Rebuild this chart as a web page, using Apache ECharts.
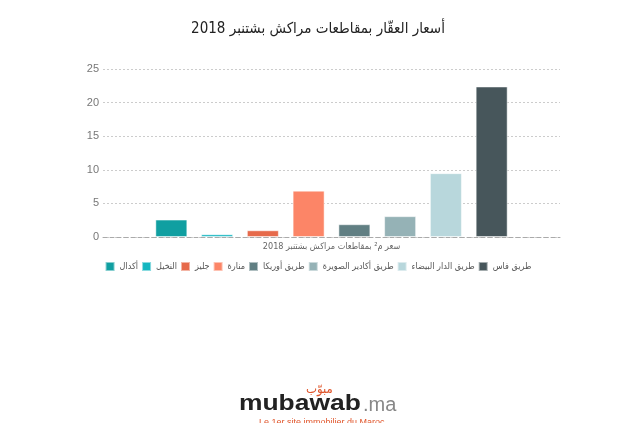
<!DOCTYPE html>
<html>
<head>
<meta charset="utf-8">
<script src="https://cdn.jsdelivr.net/npm/echarts@6/dist/echarts.min.js"></script>
<style>html,body{margin:0;padding:0;background:#fff;}#c{width:636px;height:423px;}</style>
</head>
<body>
<div id="c"></div>
<script>
var titleText = 'أسعار العقّار بمقاطعات مراكش بشتنبر 2018';
var categories = ['سعر م² بمقاطعات مراكش بشتنبر 2018'];
var seriesNames = ['أكدال', 'النخيل', 'جليز', 'منارة', 'طريق أوريكا', 'طريق أكادير الصويرة', 'طريق الدار البيضاء', 'طريق فاس'];
var seriesValues = [2.6, 0.4, 1.0, 6.9, 1.9, 3.1, 9.5, 22.4];
var seriesColors = ['#109fa1', '#14b6c0', '#e66a4b', '#fc8567', '#617f83', '#95b2b6', '#b8d7dc', '#47565b'];
var yTicks = [0, 5, 10, 15, 20, 25];

var font = 'Arial, "Liberation Sans", sans-serif';
var arFont = '"DejaVu Sans Condensed", "DejaVu Sans", sans-serif';
var chart = echarts.init(document.getElementById('c'));
var series = seriesNames.map(function (n, i) {
  return {
    name: n,
    type: 'bar',
    data: [seriesValues[i]],
    barWidth: 32,
    barGap: '43%',
    itemStyle: { color: seriesColors[i], borderColor: 'rgba(255,255,255,0.5)', borderWidth: 1 }
  };
});
chart.setOption({
  animation: false,
  backgroundColor: '#fff',
  title: {
    text: titleText, left: 'center', top: 17,
    textStyle: { fontFamily: arFont, fontSize: 15, fontWeight: 'normal', color: '#222' }
  },
  legend: {
    data: seriesNames, top: 256, left: 'center',
    itemWidth: 9, itemHeight: 9, itemGap: 3,
    icon: 'rect',
    textStyle: { fontFamily: arFont, fontSize: 9, color: '#555' }
  },
  grid: { left: 103, right: 76, top: 69, bottom: 186 },
  xAxis: {
    type: 'category', data: categories,
    axisLine: { lineStyle: { color: '#aaa', type: [4, 3] } },
    axisTick: { show: false },
    axisLabel: { fontFamily: arFont, fontSize: 9, color: '#666', margin: 5 }
  },
  yAxis: {
    type: 'value', min: yTicks[0], max: yTicks[yTicks.length - 1], interval: 5,
    axisLine: { show: false }, axisTick: { show: false },
    axisLabel: { fontFamily: font, fontSize: 11, color: '#777', margin: 4 },
    splitLine: { lineStyle: { color: '#ccc', type: [2, 2] } }
  },
  series: series,
  graphic: [
    { type: 'text', left: 239, top: 393, scaleX: 1.2, style: { text: 'mubawab', font: 'bold 22px ' + font, fill: '#222' } },
    { type: 'text', left: 363, top: 395, style: { text: '.ma', font: '20px ' + font, fill: '#888' } },
    { type: 'text', left: 306, top: 383, style: { text: 'مبوّب', font: '13px ' + arFont, fill: '#e0562c' } },
    { type: 'text', left: 259, top: 418, style: { text: 'Le 1er site immobilier du Maroc', font: '9px ' + font, fill: '#e0562c' } }
  ]
});
</script>
</body>
</html>
